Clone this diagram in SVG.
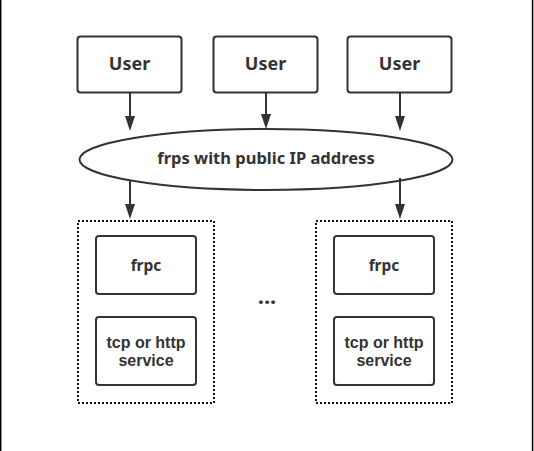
<svg xmlns="http://www.w3.org/2000/svg" width="534" height="451" viewBox="0 0 534 451">
<style>
.box{fill:#fff;stroke:#333;stroke-width:2}
.grp{fill:none;stroke:#111;stroke-width:2;stroke-dasharray:2 2}
.t{font-family:"Noto Sans","Liberation Sans",sans-serif;font-weight:bold;fill:#333;text-anchor:middle}
.w{font-family:"Liberation Sans",Arial,sans-serif;font-weight:bold;fill:#333;text-anchor:middle;font-size:16px}
.c{stroke:#333;stroke-width:2;fill:none}
.h{fill:#333}
</style>
<rect x="0" y="0" width="534" height="451" fill="#fff"/>
<line x1="0.7" y1="0" x2="0.7" y2="451" stroke="#000" stroke-width="1.5"/>
<line x1="532.6" y1="0" x2="532.6" y2="451" stroke="#000" stroke-width="1.5"/>
<g id="user1"><rect class="box" x="77.5" y="36.5" width="104" height="56" rx="3"/><text class="t" x="129.5" y="70" font-size="18">User</text></g>
<g id="user2"><rect class="box" x="213.5" y="36.5" width="104" height="56" rx="3"/><text class="t" x="265.5" y="70" font-size="18">User</text></g>
<g id="user3"><rect class="box" x="347.5" y="36.5" width="104" height="56" rx="3"/><text class="t" x="399.5" y="70" font-size="18">User</text></g>
<g id="frps"><ellipse class="box" cx="266" cy="159.5" rx="186.5" ry="30.5"/><text class="t" x="266" y="164" font-size="16.5">frps with public IP address</text></g>
<g id="client1">
<rect class="grp" x="78" y="221" width="136" height="182"/>
<rect class="box" x="96" y="236" width="100" height="58" rx="3"/><text class="t" x="146" y="270.5" font-size="15.5">frpc</text>
<rect class="box" x="96" y="317" width="100" height="68" rx="3"/><text class="w" x="146" y="347.5"><tspan x="146">tcp or http</tspan><tspan x="146" dy="18">service</tspan></text>
</g>
<g id="client2">
<rect class="grp" x="316" y="221" width="136" height="182"/>
<rect class="box" x="334" y="236" width="100" height="58" rx="3"/><text class="t" x="384" y="270.5" font-size="15.5">frpc</text>
<rect class="box" x="334" y="317" width="100" height="68" rx="3"/><text class="w" x="384" y="347.5"><tspan x="384">tcp or http</tspan><tspan x="384" dy="18">service</tspan></text>
</g>
<g id="more"><text class="t" x="267" y="304" font-size="22">...</text></g>
<g id="connectors">
<line class="c" x1="130" y1="93" x2="130" y2="118"/><path class="h" d="M125,116 L135,116 L130,131 Z"/>
<line class="c" x1="266" y1="93" x2="266" y2="116"/><path class="h" d="M261,114 L271,114 L266,129 Z"/>
<line class="c" x1="400" y1="93" x2="400" y2="118"/><path class="h" d="M395,116 L405,116 L400,131 Z"/>
<line class="c" x1="130" y1="181" x2="130" y2="206"/><path class="h" d="M125,204 L135,204 L130,219 Z"/>
<line class="c" x1="400" y1="178" x2="400" y2="206"/><path class="h" d="M395,204 L405,204 L400,219 Z"/>
</g>
</svg>
